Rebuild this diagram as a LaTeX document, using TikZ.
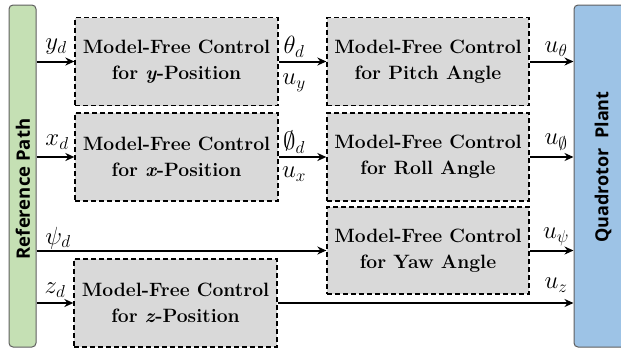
\documentclass[tikz,border=0pt]{standalone}
\usepackage{fontspec}
\newfontfamily\barfont{Open Sans}
\usetikzlibrary{arrows.meta}
\definecolor{refgreen}{HTML}{C5E0B4}
\definecolor{plantblue}{HTML}{9DC3E6}
\definecolor{boxgray}{HTML}{D9D9D9}
\definecolor{bargray}{HTML}{5F5F5F}
\begin{document}
\begin{tikzpicture}[x=1pt,y=-1pt,
 ctrl/.style={draw=black, dash pattern=on 5pt off 3pt, line width=1.3pt, fill=boxgray,
   minimum width=203pt, minimum height=88pt, inner sep=0pt, align=center,
   font=\fontsize{19.3}{26}\selectfont\bfseries},
 bar/.style={draw=bargray, line width=1pt, rounded corners=4pt, inner sep=0pt},
 bartext/.style={rotate=90, inner sep=0pt},
 arr/.style={line width=2pt, -{Stealth[length=9pt,width=8pt]}},
 sig/.style={font=\fontsize{23}{26}\selectfont, inner sep=0pt}]
\useasboundingbox (0,0) rectangle (621,349);
\clip (0,0) rectangle (621,349);
% bars
\node[bar, fill=refgreen, minimum width=27pt, minimum height=342pt] (ref) at (22.5,176) {};
\node[bartext, font=\barfont\bfseries\fontsize{18.5}{20}\selectfont] (reftext) at (23,189) {Reference Path};
\node[bar, fill=plantblue, minimum width=58pt, minimum height=342pt] (plant) at (603,176) {};
\node[bartext, font=\barfont\bfseries\fontsize{18}{22}\selectfont] (planttext) at (603,167) {Quadrotor\ \ Plant};
% control boxes
\node[ctrl] (by) at (176.5,61.5) {Model-Free Control\\for \textit{y}-Position};
\node[ctrl] (bx) at (176.5,157) {Model-Free Control\\for \textit{x}-Position};
\node[ctrl] (bz) at (175.5,303) {Model-Free Control\\for \textit{z}-Position};
\node[ctrl, minimum width=202pt] (bp) at (428,61.5) {Model-Free Control\\for Pitch Angle};
\node[ctrl, minimum width=202pt] (br) at (428,157) {Model-Free Control\\for Roll Angle};
\node[ctrl, minimum width=202pt, minimum height=87pt] (bw) at (428,250.5) {Model-Free Control\\for Yaw Angle};
% arrows
\draw[arr] (ref.east |- by.west) -- (by.west);
\draw[arr] (ref.east |- bx.west) -- (bx.west);
\draw[arr] (ref.east |- bw.west) -- (bw.west);
\draw[arr] (ref.east |- bz.west) -- (bz.west);
\draw[arr] (by.east) -- (bp.west);
\draw[arr] (bx.east) -- (br.west);
\draw[arr] (bp.east) -- (plant.west |- bp.east);
\draw[arr] (br.east) -- (plant.west |- br.east);
\draw[arr] (bw.east) -- (plant.west |- bw.east);
\draw[arr] (bz.east) -- (plant.west |- bz.east);
% labels
\node[sig] (lyd) at (56,47) {$y_d$};
\node[sig] (lxd) at (57,142) {$x_d$};
\node[sig] (lpsid) at (58,238) {$\psi_d$};
\node[sig] (lzd) at (55,290) {$z_d$};
\node[sig] (lthd) at (294,47) {$\theta_d$};
\node[sig] (luy) at (294,83) {$u_y$};
\node[sig] (lphd) at (294,142) {$\emptyset_d$};
\node[sig] (lux) at (294,174) {$u_x$};
\node[sig] (luth) at (556,49) {$u_\theta$};
\node[sig] (luph) at (556,142) {$u_\emptyset$};
\node[sig] (lups) at (556,237) {$u_\psi$};
\node[sig] (luz) at (556,285) {$u_z$};
\end{tikzpicture}
\end{document}
